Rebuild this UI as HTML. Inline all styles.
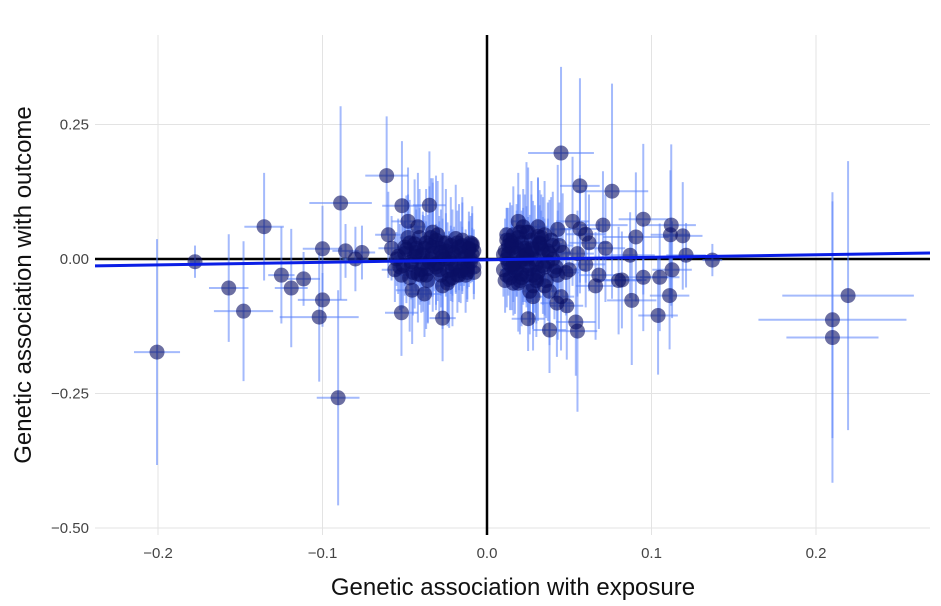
<!DOCTYPE html>
<html><head><meta charset="utf-8"><style>
body{margin:0;background:#fff;}
svg{display:block;font-family:"Liberation Sans",sans-serif;}
</style></head><body>
<svg id="chart" width="941" height="606"></svg>
<script>
// data: exposure beta, outcome beta, and their standard-error half-widths
const bx = [-0.2006,-0.1775,-0.157,-0.148,-0.1355,-0.125,-0.119,-0.1115,-0.100,-0.100,-0.102,-0.089,-0.0905,-0.086,-0.080,-0.076,
 -0.061,-0.060,-0.0517,-0.035,-0.0455,-0.052,-0.027,-0.038,-0.058,-0.056,-0.048,-0.042,
 -0.055,-0.050,-0.046,-0.043,-0.040,-0.037,-0.034,-0.031,-0.028,-0.025,-0.022,-0.019,-0.016,-0.013,-0.010,-0.008,
 -0.052,-0.047,-0.041,-0.036,-0.030,-0.024,-0.018,-0.012,-0.009,-0.044,-0.038,-0.032,-0.026,-0.020,-0.014,-0.010,
 -0.048,-0.040,-0.033,-0.027,-0.021,-0.015,-0.011,-0.035,-0.029,-0.023,-0.017,-0.012,
 0.045,0.0565,0.076,0.095,0.112,0.1115,0.119,0.0905,0.0705,0.0565,0.060,0.087,0.121,0.137,0.1125,0.105,0.095,0.082,
 0.088,0.111,0.104,0.025,0.038,0.054,0.055,0.0485,0.0425,0.21,0.2195,0.21,
 0.012,0.015,0.018,0.021,0.024,0.027,0.030,0.033,0.036,0.040,0.044,0.048,0.012,0.016,0.020,0.024,0.028,0.032,0.037,0.042,
 0.013,0.017,0.022,0.026,0.031,0.035,0.039,0.014,0.019,0.023,0.028,0.033,0.038,0.043,0.050,0.055,0.062,0.068,0.015,0.020,
 0.025,0.030,0.035,0.045,0.052,0.060,0.066,0.072,0.080,
 -0.054,-0.051,-0.049,-0.046,-0.044,-0.042,-0.039,-0.036,-0.033,-0.030,-0.027,-0.024,-0.021,-0.018,-0.015,-0.012,-0.009,-0.008,
 -0.053,-0.050,-0.047,-0.043,-0.039,-0.035,-0.031,-0.027,-0.023,-0.019,-0.015,-0.011,-0.008,
 -0.045,-0.041,-0.037,-0.033,-0.029,-0.025,-0.021,-0.017,-0.013,-0.009,-0.034,-0.028,-0.022,-0.016,-0.010,
 0.010,0.011,0.013,0.015,0.017,0.019,0.021,0.023,0.025,0.027,0.029,0.031,0.034,0.037,0.040,0.043,0.046,
 0.010,0.012,0.014,0.016,0.018,0.020,0.022,0.024,0.026,0.028,0.030,0.032,0.035,0.038,0.041,
 0.011,0.013,0.016,0.019,0.022,0.025,0.028,0.031,0.034,0.012,0.015,0.018,0.021,0.024,0.027];
const by = [-0.173,-0.005,-0.054,-0.097,0.060,-0.030,-0.054,-0.037,0.019,-0.076,-0.108,0.104,-0.258,0.015,0.0,0.012,
 0.155,0.045,0.099,0.100,-0.058,-0.100,-0.110,-0.065,0.020,-0.020,0.070,0.060,
 0.000,0.010,-0.010,0.020,-0.020,0.030,0.000,0.035,-0.030,0.015,0.025,-0.015,0.010,0.005,-0.005,0.015,
 -0.030,0.030,0.040,-0.040,0.045,-0.045,0.030,-0.025,0.025,0.005,0.020,-0.010,0.000,0.010,-0.010,0.000,
 0.040,-0.030,0.050,-0.050,-0.020,0.035,0.020,-0.005,0.020,0.000,-0.030,-0.015,
 0.197,0.136,0.126,0.074,0.063,0.045,0.043,0.041,0.063,0.056,0.046,0.007,0.007,-0.002,-0.020,-0.034,-0.034,-0.039,
 -0.077,-0.068,-0.105,-0.111,-0.132,-0.117,-0.134,-0.087,-0.082,-0.113,-0.068,-0.146,
 0.000,0.020,-0.020,0.030,-0.030,0.010,-0.010,0.040,-0.040,0.000,0.025,-0.025,0.045,-0.045,0.050,0.000,-0.050,0.030,0.015,-0.015,
 0.010,-0.010,0.060,-0.060,0.060,-0.050,0.035,-0.035,0.070,0.015,-0.070,0.020,-0.060,0.055,-0.020,0.010,0.030,-0.030,0.025,-0.005,
 0.005,-0.040,0.045,-0.070,0.070,-0.010,-0.050,0.020,-0.040,
 0.005,-0.012,0.018,-0.005,0.028,-0.028,0.008,-0.018,0.022,-0.008,0.030,-0.022,0.012,-0.030,0.025,-0.020,0.028,-0.025,
 -0.015,0.022,-0.035,0.012,-0.008,0.025,-0.015,0.005,-0.038,0.038,0.000,0.018,-0.015,
 -0.025,0.005,-0.030,0.010,-0.020,0.030,-0.035,0.022,-0.030,0.008,0.040,0.012,-0.008,-0.022,0.030,
 -0.020,0.015,-0.008,0.030,-0.022,0.040,-0.035,0.020,-0.012,0.035,0.000,-0.025,0.015,-0.005,0.025,-0.030,0.012,
 0.008,-0.030,0.035,-0.010,0.022,-0.040,0.005,0.050,-0.018,0.018,-0.035,0.028,-0.015,0.010,-0.022,
 -0.040,0.025,0.045,-0.045,0.000,0.050,-0.030,0.042,-0.012,0.035,-0.015,0.010,-0.028,0.008,0.020];
const bxse = [0.014,0.003,0.012,0.018,0.012,0.008,0.010,0.010,0.012,0.015,0.024,0.019,0.013,0.008,0.008,0.008,
 0.013,0.008,0.012,0.010,0.010,0.010,0.008,0.010,0.008,0.008,0.010,0.008,
 0.004,0.004,0.004,0.004,0.004,0.004,0.004,0.004,0.004,0.004,0.004,0.003,0.003,0.003,0.003,0.003,
 0.005,0.005,0.005,0.005,0.004,0.004,0.004,0.003,0.003,0.004,0.004,0.004,0.004,0.003,0.003,0.003,
 0.005,0.004,0.004,0.004,0.004,0.003,0.003,0.004,0.004,0.004,0.003,0.003,
 0.020,0.012,0.022,0.015,0.015,0.012,0.012,0.020,0.015,0.012,0.012,0.015,0.012,0.006,0.012,0.012,0.015,0.015,
 0.015,0.012,0.012,0.010,0.010,0.012,0.012,0.010,0.010,0.045,0.040,0.028,
 0.004,0.004,0.004,0.004,0.005,0.005,0.005,0.006,0.006,0.007,0.008,0.008,0.004,0.004,0.004,0.005,0.005,0.006,0.006,0.007,
 0.004,0.004,0.005,0.005,0.006,0.006,0.007,0.004,0.004,0.005,0.006,0.006,0.007,0.008,0.010,0.010,0.012,0.012,0.004,0.004,
 0.005,0.006,0.007,0.008,0.010,0.012,0.012,0.012,0.014,
 0.004,0.004,0.004,0.004,0.004,0.004,0.004,0.004,0.003,0.003,0.003,0.003,0.003,0.003,0.003,0.003,0.002,0.002,
 0.004,0.004,0.004,0.004,0.004,0.003,0.003,0.003,0.003,0.003,0.003,0.003,0.002,
 0.004,0.004,0.004,0.003,0.003,0.003,0.003,0.003,0.003,0.002,0.003,0.003,0.003,0.003,0.002,
 0.002,0.002,0.003,0.003,0.003,0.003,0.003,0.003,0.003,0.003,0.003,0.004,0.004,0.004,0.004,0.004,0.005,
 0.002,0.002,0.003,0.003,0.003,0.003,0.003,0.003,0.003,0.003,0.004,0.004,0.004,0.004,0.004,
 0.002,0.003,0.003,0.003,0.003,0.003,0.004,0.004,0.004,0.002,0.003,0.003,0.003,0.003,0.003];
const byse = [0.21,0.03,0.10,0.13,0.10,0.09,0.11,0.05,0.08,0.05,0.12,0.18,0.20,0.05,0.06,0.05,
 0.11,0.08,0.12,0.10,0.10,0.08,0.08,0.08,0.06,0.06,0.10,0.10,
 0.05,0.06,0.05,0.08,0.06,0.10,0.05,0.12,0.06,0.07,0.09,0.05,0.06,0.05,0.04,0.04,
 0.07,0.08,0.09,0.08,0.10,0.08,0.06,0.05,0.06,0.06,0.06,0.05,0.05,0.05,0.04,0.04,
 0.08,0.07,0.10,0.08,0.06,0.07,0.05,0.06,0.06,0.05,0.05,0.04,
 0.16,0.20,0.20,0.14,0.15,0.12,0.10,0.12,0.10,0.10,0.09,0.08,0.06,0.03,0.09,0.10,0.10,0.09,
 0.12,0.10,0.11,0.06,0.08,0.10,0.15,0.10,0.10,0.22,0.25,0.27,
 0.04,0.05,0.05,0.06,0.06,0.05,0.05,0.08,0.07,0.06,0.08,0.08,0.05,0.06,0.07,0.05,0.07,0.07,0.06,0.06,
 0.04,0.05,0.07,0.08,0.09,0.09,0.08,0.06,0.09,0.06,0.10,0.07,0.10,0.12,0.08,0.08,0.09,0.10,0.05,0.05,
 0.06,0.08,0.10,0.10,0.12,0.08,0.10,0.10,0.10,
 0.07,0.08,0.10,0.07,0.12,0.09,0.08,0.10,0.12,0.07,0.13,0.09,0.08,0.07,0.09,0.06,0.07,0.05,
 0.08,0.09,0.10,0.08,0.09,0.11,0.08,0.07,0.09,0.10,0.06,0.07,0.05,
 0.08,0.09,0.10,0.08,0.09,0.10,0.09,0.08,0.07,0.05,0.11,0.08,0.07,0.06,0.05,
 0.05,0.06,0.06,0.07,0.08,0.08,0.09,0.10,0.09,0.11,0.10,0.09,0.10,0.11,0.10,0.12,0.11,
 0.05,0.06,0.07,0.07,0.08,0.10,0.09,0.13,0.10,0.09,0.11,0.10,0.09,0.10,0.09,
 0.06,0.07,0.09,0.09,0.08,0.12,0.10,0.11,0.09,0.06,0.08,0.08,0.09,0.09,0.10];
const xTicks = [-0.2,-0.1,0,0.1,0.2];
const xTickLabels = ["\u22120.2","\u22120.1","0.0","0.1","0.2"];
const yTicks = [0.25,0,-0.25,-0.5];
const yTickLabels = ["0.25","0.00","\u22120.25","\u22120.50"];
const ivwSlope = [0.047];
const ivwIntercept = [-0.0015];

const NS="http://www.w3.org/2000/svg";
const svg=document.getElementById('chart');
const L=95,R=930,T=35,B=535;
const X=v=>487+v*1645;
const Y=v=>259-v*538;
function mk(tag,attrs,parent){const e=document.createElementNS(NS,tag);for(const k in attrs)e.setAttribute(k,attrs[k]);(parent||svg).appendChild(e);return e;}

const grid=mk('g',{});


xTicks.forEach((t,i)=>{ if(t!==0){const l=mk('line',{x1:X(t),x2:X(t),y1:T,y2:B,stroke:'#e3e3e3','stroke-width':1},grid);
 
 }
 const tx=mk('text',{x:X(t),y:558,'text-anchor':'middle','font-size':15,fill:'#444'});
 tx.textContent=xTickLabels[i];
 
 
});
yTicks.forEach((t,i)=>{ if(t!==0){const l=mk('line',{x1:L,x2:R,y1:Y(t),y2:Y(t),stroke:'#e3e3e3','stroke-width':1},grid);
 
 }
 const tx=mk('text',{x:89,y:Y(t)+5,'text-anchor':'end','font-size':15,fill:'#444'});
 tx.textContent=yTickLabels[i];
 
 
});

const zh=mk('line',{x1:L,x2:R,y1:Y(0),y2:Y(0),stroke:'#000','stroke-width':2.5});


const zv=mk('line',{x1:X(0),x2:X(0),y1:T,y2:B,stroke:'#000','stroke-width':2.5});



const eb=mk('g',{stroke:'rgba(90,130,250,0.55)','stroke-width':2});


for(let i=0;i<bx.length;i++){
 const v=mk('line',{x1:X(bx[i]),x2:X(bx[i]),y1:Y(by[i]-byse[i]),y2:Y(by[i]+byse[i])},eb);
 
 
 const h=mk('line',{x1:X(bx[i]-bxse[i]),x2:X(bx[i]+bxse[i]),y1:Y(by[i]),y2:Y(by[i])},eb);
 
 
}
const pts=mk('g',{});


for(let i=0;i<bx.length;i++){
 const c=mk('circle',{cx:X(bx[i]),cy:Y(by[i]),r:7.5,fill:'rgba(10,15,100,0.6)'},pts);
 
 
}
const x0=(L-487)/1645,x1=(R-487)/1645;
const reg=mk('line',{x1:L,x2:R,y1:Y(ivwIntercept[0]+ivwSlope[0]*x0),y2:Y(ivwIntercept[0]+ivwSlope[0]*x1),stroke:'#0a1ee6','stroke-width':3});


</script>
<div style="position:absolute;left:0;top:0;width:941px;height:606px;pointer-events:none;font-family:'Liberation Sans',sans-serif;">
<div style="position:absolute;left:0;width:1026px;top:574px;text-align:center;font-size:24px;color:#111;">Genetic association with exposure</div>
<div style="position:absolute;left:24px;top:285px;transform:translate(-50%,-50%) rotate(-90deg);white-space:nowrap;font-size:24px;color:#111;">Genetic association with outcome</div>
</div>
</body></html>
